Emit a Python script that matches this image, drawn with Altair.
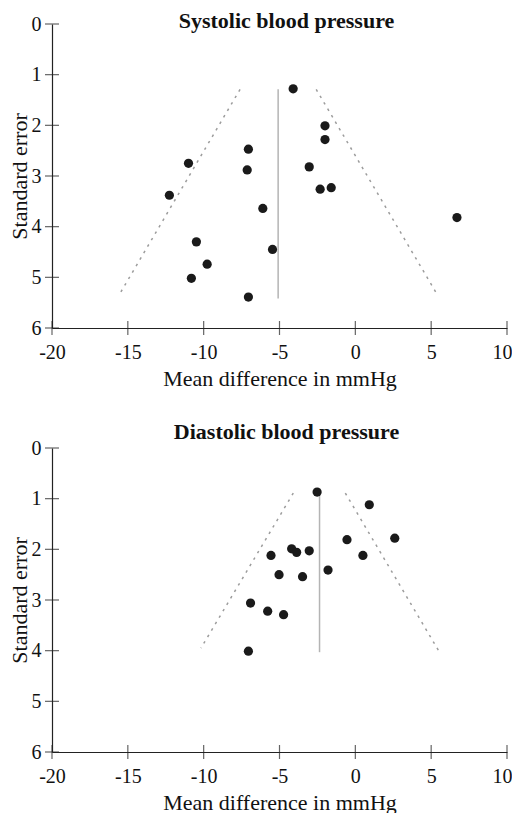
import altair as alt
import pandas as pd

FONT = "Liberation Serif"

x_ticks = [-20, -15, -10, -5, 0, 5, 10]
y_ticks = [0, 1, 2, 3, 4, 5, 6]

# Systolic blood pressure
sys_md = [-4.1, -2.0, -2.0, -7.05, -11.0, -7.13, -3.04, -12.26, -2.32, -1.59,
          -6.1, 6.7, -10.48, -5.46, -9.77, -10.81, -7.05]
sys_se = [1.28, 2.01, 2.28, 2.47, 2.75, 2.88, 2.82, 3.38, 3.26, 3.23,
          3.64, 3.82, 4.30, 4.45, 4.74, 5.02, 5.39]
sys_center = -5.09
sys_center_se = [1.29, 5.42]
sys_left_x = [-7.6, -15.58]
sys_left_se = [1.29, 5.35]
sys_right_x = [-2.58, 5.42]
sys_right_se = [1.29, 5.35]

# Diastolic blood pressure
dia_md = [-2.52, 0.92, 2.6, -0.55, -4.2, -3.87, -3.04, -5.56, 0.5, -1.8,
          -5.03, -3.48, -6.91, -5.78, -4.73, -7.05]
dia_se = [0.87, 1.12, 1.78, 1.81, 1.99, 2.06, 2.03, 2.12, 2.12, 2.41,
          2.50, 2.54, 3.06, 3.22, 3.29, 4.01]
dia_center = -2.36
dia_center_se = [0.87, 4.03]
dia_left_x = [-4.09, -10.18]
dia_left_se = [0.89, 3.95]
dia_right_x = [-0.66, 5.47]
dia_right_se = [0.89, 3.99]

HYPHEN_LABEL = "datum.value < 0 ? '-' + (-datum.value) : '' + datum.value"
LAST_X = "datum.value == %d" % x_ticks[-1]


def panel(title, title_offset, md, se, center, center_se, lx, lse, rx, rse):
    xs = alt.Scale(domain=[x_ticks[0], x_ticks[-1]], nice=False, zero=False)
    ys = alt.Scale(domain=[y_ticks[0], y_ticks[-1]], reverse=True, nice=False, zero=False)
    xaxis = alt.Axis(values=x_ticks, title="Mean difference in mmHg", ticks=False, tickSize=0,
                     grid=False, labelFont=FONT, labelFontSize=20, labelColor="#111",
                     labelPadding=14, labelFlush=False, labelExpr=HYPHEN_LABEL,
                     labelAlign={"condition": {"test": LAST_X, "value": "right"}, "value": "center"},
                     labelOffset={"condition": {"test": LAST_X, "value": 5}, "value": 0},
                     titleFont=FONT, titleFontSize=22,
                     titleFontWeight="normal", titleColor="#111", titlePadding=6,
                     domainColor="#222", domainWidth=1.2)
    yaxis = alt.Axis(values=y_ticks, title="Standard error", ticks=False, tickSize=0,
                     grid=False, labelFont=FONT, labelFontSize=20, labelColor="#111",
                     labelPadding=11, labelFlush=False, titleFont=FONT, titleFontSize=22,
                     titleFontWeight="normal", titleColor="#111", titlePadding=0,
                     domainColor="#222", domainWidth=1.2)
    X = alt.X("md:Q", scale=xs, axis=xaxis)
    Y = alt.Y("se:Q", scale=ys, axis=yaxis)

    pts = pd.DataFrame({"md": md, "se": se})
    points = alt.Chart(pts).mark_circle(size=85, color="#1a1a1a", opacity=1).encode(x=X, y=Y)

    cl = pd.DataFrame({"md": [center], "md2": [center], "se": [center_se[0]], "se2": [center_se[1]]})
    center_line = alt.Chart(cl).mark_rule(color="#b4b4b4", strokeWidth=1.5).encode(
        x=X, x2="md2:Q", y=Y, y2="se2:Q")

    fl = pd.DataFrame({"md": [lx[0], rx[0]], "md2": [lx[1], rx[1]],
                       "se": [lse[0], rse[0]], "se2": [lse[1], rse[1]]})
    funnel = alt.Chart(fl).mark_rule(color="#9c9c9c", strokeWidth=1.5, strokeDash=[2.5, 5]).encode(
        x=X, x2="md2:Q", y=Y, y2="se2:Q")

    xt = pd.DataFrame({"md": x_ticks, "se": [y_ticks[-1]] * len(x_ticks)})
    xtick_marks = alt.Chart(xt).mark_tick(orient="vertical", size=14, thickness=1.2,
                                          color="#222").encode(x=X, y=Y)
    yt = pd.DataFrame({"md": [x_ticks[0]] * len(y_ticks), "se": y_ticks})
    ytick_marks = alt.Chart(yt).mark_tick(orient="horizontal", size=14, thickness=1.2,
                                          color="#222").encode(x=X, y=Y)

    return alt.layer(funnel, center_line, xtick_marks, ytick_marks, points).properties(
        width=455, height=304,
        title=alt.TitleParams(title, font=FONT, fontSize=22, fontWeight="bold", color="#111",
                              anchor="middle", frame="group", dx=7, baseline="alphabetic",
                              offset=title_offset),
    )


top = panel("Systolic blood pressure", -36, sys_md, sys_se, sys_center, sys_center_se,
            sys_left_x, sys_left_se, sys_right_x, sys_right_se)
bottom = panel("Diastolic blood pressure", -23, dia_md, dia_se, dia_center, dia_center_se,
               dia_left_x, dia_left_se, dia_right_x, dia_right_se)

chart = alt.vconcat(top, bottom, spacing=32).properties(
    padding={"top": 2, "left": 0, "right": 0, "bottom": 0},
    background="white",
).configure_view(stroke=None, strokeWidth=0)

chart.save("out.html", embed_options={"renderer": "svg", "actions": False})
